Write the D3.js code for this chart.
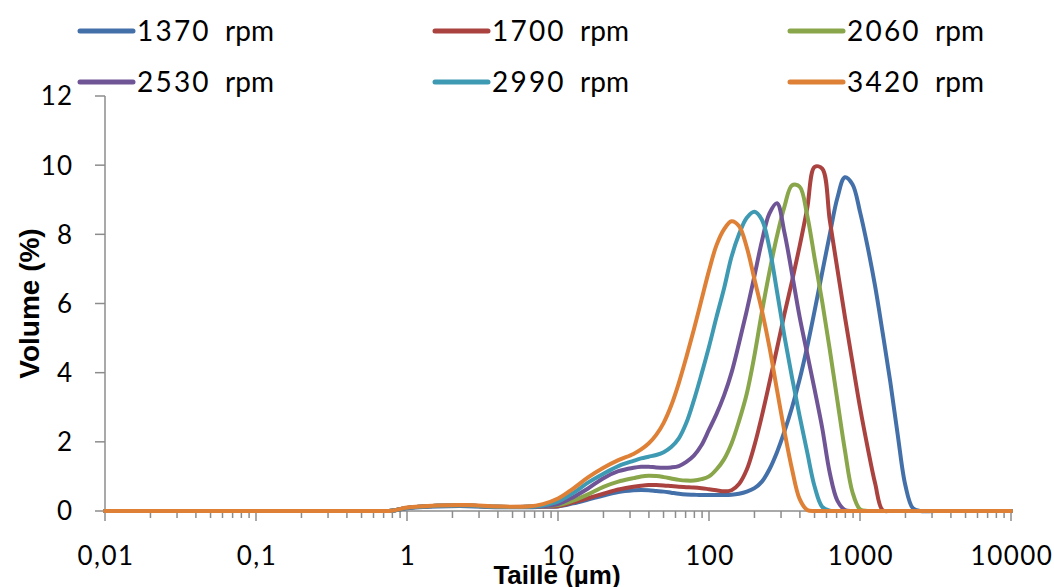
<!DOCTYPE html>
<html>
<head>
<meta charset="utf-8">
<script src="https://cdn.jsdelivr.net/npm/d3@7/dist/d3.min.js"></script>
<style>
  html, body { margin: 0; padding: 0; background: #fff; }
  svg { display: block; }
</style>
</head>
<body>
<svg id="chart" width="1054" height="587"></svg>
<script>
// Particle size (µm), shared grid
const sizes = [0.01, 0.1, 0.5, 0.79, 1, 1.58, 2.51, 3.98, 6.31, 7.94,
  10, 12.6, 15.8, 20, 25.1,
  31.6, 35.5, 39.8, 44.7, 50.1, 56.2, 63.1, 70.8, 79.4, 89.1,
  100, 112, 126, 141, 158, 178, 200, 224, 251, 282,
  316, 355, 398, 447, 501, 562, 631, 708, 794, 891,
  1000, 1122, 1259, 1413, 1585, 1778, 1995, 2239, 2512, 3162, 10000];

const speeds = ["1370", "1700", "2060", "2530", "2990", "3420"];
const unit = "rpm";
const colors = ["#4470A9", "#AA4340", "#89A64A", "#6F5596", "#3E9AB3", "#DE8137"];

const vol1370 = [0,0,0,0.01,0.08,0.13,0.14,0.11,0.11,0.12,
  0.13,0.22,0.33,0.45,0.55,
  0.6,0.61,0.6,0.58,0.56,0.53,0.5,0.48,0.47,0.46,
  0.46,0.46,0.46,0.47,0.5,0.56,0.66,0.85,1.2,1.7,
  2.3,3.0,3.8,4.75,5.8,6.9,8.0,9.05,9.65,9.45,
  8.65,7.65,6.5,5.15,3.75,2.2,0.75,0.08,0,0,0];
const vol1700 = [0,0,0,0.01,0.09,0.15,0.16,0.12,0.12,0.13,
  0.14,0.25,0.37,0.5,0.62,
  0.7,0.73,0.75,0.75,0.74,0.72,0.7,0.69,0.68,0.66,
  0.63,0.6,0.57,0.6,0.78,1.2,1.9,2.75,3.7,4.7,
  5.7,6.65,7.65,8.75,9.95,9.9,8.4,7.0,5.62,4.3,
  3.0,1.85,0.8,0.02,0,0,0,0,0,0,0];
const vol2060 = [0,0,0,0.01,0.09,0.15,0.16,0.12,0.12,0.14,
  0.17,0.3,0.48,0.7,0.85,
  0.95,1.0,1.02,1.01,0.98,0.94,0.9,0.88,0.88,0.92,
  1.0,1.2,1.5,1.95,2.6,3.4,4.5,5.75,6.9,7.95,
  8.8,9.42,9.38,8.55,7.3,6.05,4.66,3.2,1.76,0.55,
  0.05,0,0,0,0,0,0,0,0,0,0];
const vol2530 = [0,0,0,0.01,0.09,0.15,0.16,0.12,0.12,0.14,
  0.2,0.4,0.65,0.95,1.15,
  1.25,1.28,1.28,1.26,1.25,1.26,1.3,1.42,1.6,1.9,
  2.35,2.8,3.35,4.0,4.85,5.8,6.8,7.8,8.6,8.9,
  8.05,6.85,5.62,4.55,3.5,2.4,1.1,0.3,0.03,0,
  0,0,0,0,0,0,0,0,0,0,0];
const vol2990 = [0,0,0,0.01,0.09,0.15,0.16,0.12,0.12,0.16,
  0.27,0.52,0.82,1.08,1.3,
  1.45,1.52,1.57,1.62,1.7,1.85,2.1,2.55,3.2,3.95,
  4.75,5.6,6.45,7.35,8.0,8.48,8.65,8.42,7.62,6.35,
  5.05,3.85,2.75,1.7,0.7,0.12,0.01,0,0,0,
  0,0,0,0,0,0,0,0,0,0,0];
const vol3420 = [0,0,0,0.01,0.1,0.16,0.17,0.13,0.13,0.2,
  0.36,0.65,0.97,1.25,1.47,
  1.65,1.78,1.95,2.2,2.55,3.05,3.7,4.45,5.25,6.1,
  6.95,7.68,8.15,8.38,8.24,7.62,6.7,5.8,4.75,3.5,
  2.3,1.2,0.35,0.03,0,0,0,0,0,0,
  0,0,0,0,0,0,0,0,0,0,0];
const allVolumes = [vol1370, vol1700, vol2060, vol2530, vol2990, vol3420];

const xTickValues = [0.01, 0.1, 1, 10, 100, 1000, 10000];
const xTickLabels = ["0,01", "0,1", "1", "10", "100", "1000", "10000"];
const yTickValues = [0, 2, 4, 6, 8, 10, 12];

const svg = d3.select("#chart");
const pLeft = 105, pRight = 1011, pTop = 96, pBottom = 511;

const x = d3.scaleLog().domain([0.01, 10000]).range([pLeft, pRight]);
const y = d3.scaleLinear().domain([0, 12]).range([pBottom, pTop]);

const axisColor = "#8c8c8c";
const tickFont = "Lato, 'DejaVu Sans', sans-serif";

// minor ticks
const minor = [];
for (let e = -2; e < 4; e++) for (let k = 2; k <= 9; k++) minor.push(k * Math.pow(10, e));

const xAxisG = svg.append("g").attr("transform", `translate(0,${pBottom})`);
xAxisG.selectAll("line.minor").data(minor).join("line")
  .attr("x1", d => x(d)).attr("x2", d => x(d))
  .attr("y1", 0).attr("y2", 7)
  .attr("stroke", axisColor).attr("stroke-width", 1.5);
xAxisG.selectAll("line.major").data(xTickValues).join("line")
  .attr("x1", d => x(d)).attr("x2", d => x(d))
  .attr("y1", 0).attr("y2", 10)
  .attr("stroke", axisColor).attr("stroke-width", 1.5);
xAxisG.append("line").attr("x1", pLeft).attr("x2", pRight).attr("y1", 0).attr("y2", 0)
  .attr("stroke", axisColor).attr("stroke-width", 1.5);
xAxisG.selectAll("text").data(xTickValues).join("text")
  .attr("x", d => x(d) + 1).attr("y", 54)
  .attr("text-anchor", "middle")
  .style("font-family", tickFont).style("font-size", "26px")
  .style("letter-spacing", "1.5px").attr("fill", "#000")
  .text((d, i) => xTickLabels[i]);

const yAxisG = svg.append("g");
yAxisG.append("line").attr("x1", pLeft).attr("x2", pLeft).attr("y1", pTop).attr("y2", pBottom)
  .attr("stroke", axisColor).attr("stroke-width", 1.5);
yAxisG.selectAll("line.tick").data(yTickValues).join("line")
  .attr("x1", pLeft - 10).attr("x2", pLeft).attr("y1", d => y(d)).attr("y2", d => y(d))
  .attr("stroke", axisColor).attr("stroke-width", 1.5);
yAxisG.selectAll("text").data(yTickValues).join("text")
  .attr("x", 73).attr("y", d => y(d)).attr("dy", "0.36em")
  .attr("text-anchor", "end")
  .style("font-family", tickFont).style("font-size", "26px")
  .style("letter-spacing", "1px").attr("fill", "#000")
  .text(d => d);

// lines
const line = d3.line()
  .x((d, i) => x(sizes[i]))
  .y(d => y(d))
  .curve(d3.curveCatmullRom.alpha(0.5));

svg.append("g").selectAll("path").data(allVolumes).join("path")
  .attr("d", d => line(d))
  .attr("fill", "none")
  .attr("stroke", (d, i) => colors[i])
  .attr("stroke-width", 4)
  .attr("stroke-linejoin", "round")
  .attr("stroke-linecap", "round");

// axis titles
svg.append("text")
  .attr("transform", `translate(39,${(pTop + pBottom) / 2}) rotate(-90)`)
  .attr("text-anchor", "middle")
  .style("font-family", "'Liberation Sans', Arial, sans-serif")
  .style("font-weight", "bold").style("font-size", "28px")
  .text("Volume (%)");
svg.append("text")
  .attr("x", 557).attr("y", 584)
  .attr("text-anchor", "middle")
  .style("font-family", "'Liberation Sans', Arial, sans-serif")
  .style("font-weight", "bold").style("font-size", "26px")
  .text("Taille (µm)");

// legend
const legendX = [80, 435, 790];
const legendY = [31, 82];
const lg = svg.append("g").selectAll("g").data(speeds).join("g")
  .attr("transform", (d, i) => `translate(${legendX[i % 3]},${legendY[Math.floor(i / 3)]})`);
lg.append("line").attr("x1", 0).attr("x2", 53).attr("y1", 0).attr("y2", 0)
  .attr("stroke", (d, i) => colors[i]).attr("stroke-width", 5).attr("stroke-linecap", "round");
const lt = lg.append("text").attr("x", 57).attr("y", 0).attr("dy", "0.36em")
  .style("font-family", tickFont).style("font-size", "28px").style("white-space", "pre")
  .attr("fill", "#000");
lt.append("tspan").style("letter-spacing", "2.2px").text(d => d);
lt.append("tspan").text(" " + " " + unit);
</script>
</body>
</html>
